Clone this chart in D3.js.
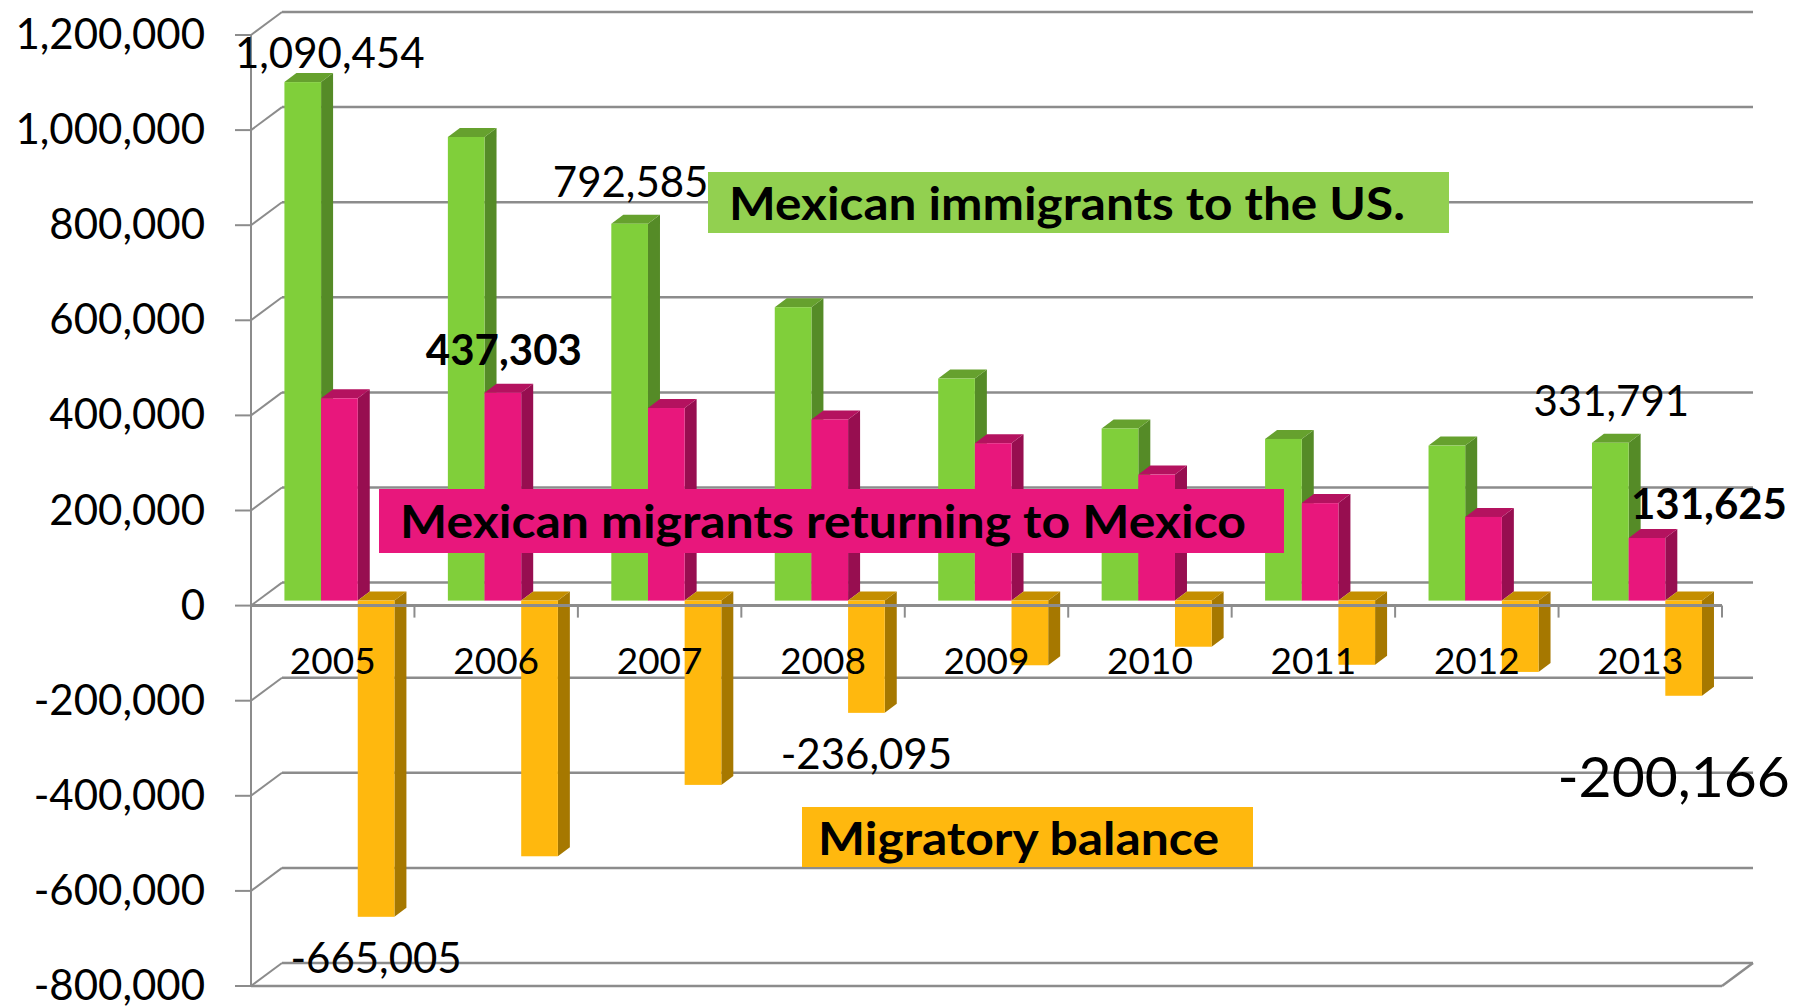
<!DOCTYPE html>
<html>
<head>
<meta charset="utf-8">
<script src="https://cdn.jsdelivr.net/npm/d3@7"></script>
<style>
  html, body { margin: 0; padding: 0; background: #fff; }
  svg { display: block; font-family: Lato, "Open Sans", sans-serif; }
</style>
</head>
<body>
<div id="chart"></div>
<script>
// data
const years = ["2005", "2006", "2007", "2008", "2009", "2010", "2011", "2012", "2013"];
const immigrants = [1090454, 975000, 792585, 617000, 467000, 362000, 340000, 326000, 331791];
const returning = [425449, 437303, 405000, 381000, 331000, 265000, 205000, 176000, 131625];
const balance = [-665005, -537697, -387585, -236095, -136000, -97000, -135000, -150000, -200166];
const yTicks = [-800000, -600000, -400000, -200000, 0, 200000, 400000, 600000, 800000, 1000000, 1200000];
const seriesNames = ["Mexican immigrants to the US.", "Mexican migrants returning to Mexico", "Migratory balance"];

const W = 1806, H = 1008;
const plotL = 251, plotR = 1722, plotT = 35, plotB = 986;
const DX = 31, DY = -23;          // depth of the walls
const BDX = 12, BDY = -9;         // depth of one bar
const PX = 6.7, PY = -5;          // bars stand a little behind the front plane

const colors = [
  { front: "#80cf3a", side: "#558b27", top: "#66a12e", box: "#92d050" },
  { front: "#e8177c", side: "#970e50", top: "#b4125f", box: "#e8177c" },
  { front: "#ffb80e", side: "#a67800", top: "#c48e00", box: "#ffb80e" }
];

const svg = d3.select("#chart").append("svg")
  .attr("width", W)
  .attr("height", H);

const y = d3.scaleLinear().domain([-800000, 1200000]).range([plotB, plotT]);
const x = d3.scaleBand().domain(years).range([plotL, plotR]).paddingInner(0.327).paddingOuter(0.1635);
const xs = d3.scaleBand().domain([0, 1, 2]).range([0, x.bandwidth()]);
// plain hyphen for negatives, like the original
const fmt = d3.formatLocale({ decimal: ".", thousands: ",", grouping: [3], currency: ["", ""], minus: "-" }).format(",");
const grid = "#8c8c8c";

// walls: back gridlines + side diagonals
const walls = svg.append("g");
yTicks.forEach(t => {
  walls.append("line")
    .attr("x1", plotL + DX).attr("y1", y(t) + DY)
    .attr("x2", plotR + DX).attr("y2", y(t) + DY)
    .style("stroke", grid).style("stroke-width", 2.5);
  walls.append("line")
    .attr("x1", plotL).attr("y1", y(t))
    .attr("x2", plotL + DX).attr("y2", y(t) + DY)
    .style("stroke", grid).style("stroke-width", 2);
  // tick mark on the value axis
  walls.append("line")
    .attr("x1", plotL - 16).attr("y1", y(t))
    .attr("x2", plotL).attr("y2", y(t))
    .style("stroke", grid).style("stroke-width", 2);
});
// floor front edge and right edge
walls.append("line").attr("x1", plotL).attr("y1", plotB).attr("x2", plotR).attr("y2", plotB)
  .style("stroke", grid).style("stroke-width", 2.5);
walls.append("line").attr("x1", plotR).attr("y1", plotB).attr("x2", plotR + DX).attr("y2", plotB + DY)
  .style("stroke", grid).style("stroke-width", 2.5);
// value axis
walls.append("line").attr("x1", plotL).attr("y1", plotT).attr("x2", plotL).attr("y2", plotB)
  .style("stroke", grid).style("stroke-width", 2);

// y tick labels
svg.append("g").selectAll("text")
  .data(yTicks)
  .join("text")
  .attr("x", plotL - 46)
  .attr("y", d => y(d) + 14)
  .attr("text-anchor", "end")
  .attr("font-size", "42px")
  .attr("fill", "#000")
  .text(d => fmt(d));

// 3D bars
const series = [immigrants, returning, balance];
const bars = svg.append("g");
years.forEach((yr, i) => {
  series.forEach((vals, s) => {
    const v = vals[i];
    const x0 = x(yr) + xs(s) + PX;
    const x1 = x0 + xs.bandwidth();
    const yz = y(0) + PY;
    const yv = y(v) + PY;
    const yt = Math.min(yz, yv), yb = Math.max(yz, yv);
    const c = colors[s];
    bars.append("polygon")
      .attr("points", [[x1, yt], [x1 + BDX, yt + BDY], [x1 + BDX, yb + BDY], [x1, yb]].join(" "))
      .style("fill", c.side);
    bars.append("polygon")
      .attr("points", [[x0, yt], [x1, yt], [x1 + BDX, yt + BDY], [x0 + BDX, yt + BDY]].join(" "))
      .style("fill", c.top);
    bars.append("rect")
      .attr("x", x0).attr("y", yt)
      .attr("width", x1 - x0).attr("height", yb - yt)
      .style("fill", c.front);
  });
});

// category axis at zero (in front of the bars)
const cat = svg.append("g");
cat.append("line").attr("x1", plotL).attr("y1", y(0)).attr("x2", plotR).attr("y2", y(0))
  .style("stroke", grid).style("stroke-width", 3);
d3.range(years.length + 1).forEach(k => {
  const xx = plotL + k * x.step();
  cat.append("line").attr("x1", xx).attr("y1", y(0)).attr("x2", xx).attr("y2", y(0) + 12)
    .style("stroke", grid).style("stroke-width", 2);
});
cat.selectAll("text")
  .data(years)
  .join("text")
  .attr("x", d => x(d) - x.step() * x.paddingOuter() + x.step() / 2)
  .attr("y", y(0) + 68)
  .attr("text-anchor", "middle")
  .attr("font-size", "37px")
  .attr("fill", "#000")
  .text(d => d);

// series name boxes
const legend = [
  { s: 0, bx: 708, by: 172, bw: 741, bh: 61, tx: 729, ty: 220, tw: 676 },
  { s: 1, bx: 379, by: 489, bw: 905, bh: 64, tx: 400, ty: 538, tw: 846 },
  { s: 2, bx: 802, by: 807, bw: 451, bh: 60, tx: 818, ty: 855, tw: 401 }
];
const lg = svg.append("g");
legend.forEach(l => {
  lg.append("rect").attr("x", l.bx).attr("y", l.by).attr("width", l.bw).attr("height", l.bh)
    .style("fill", colors[l.s].box);
  lg.append("text").attr("x", l.tx).attr("y", l.ty)
    .attr("font-size", "46px").attr("font-weight", "bold").attr("fill", "#000")
    .attr("textLength", l.tw).attr("lengthAdjust", "spacingAndGlyphs")
    .text(seriesNames[l.s]);
});

// data labels: series, category, offset from the bar end, size, weight
const labels = [
  { s: 0, i: 0, dx: 27, dy: -14, size: 42, bold: false },
  { s: 0, i: 2, dx: 1, dy: -27, size: 42, bold: false },
  { s: 1, i: 1, dx: 1, dy: -28, size: 42, bold: true },
  { s: 0, i: 8, dx: 1, dy: -27, size: 42, bold: false },
  { s: 1, i: 8, dx: 62, dy: -19, size: 42, bold: true },
  { s: 2, i: 3, dx: 0, dy: 56, size: 42, bold: false },
  { s: 2, i: 0, dx: 0, dy: 56, size: 42, bold: false },
  { s: 2, i: 8, dx: -10, dy: 101, size: 57, bold: false }
];
svg.append("g").selectAll("text")
  .data(labels)
  .join("text")
  .attr("x", d => x(years[d.i]) + xs(d.s) + PX + xs.bandwidth() / 2 + d.dx)
  .attr("y", d => y(series[d.s][d.i]) + PY + d.dy)
  .attr("text-anchor", "middle")
  .attr("font-size", d => d.size + "px")
  .attr("font-weight", d => d.bold ? "bold" : "normal")
  .attr("fill", "#000")
  .text(d => fmt(series[d.s][d.i]));
</script>
</body>
</html>
